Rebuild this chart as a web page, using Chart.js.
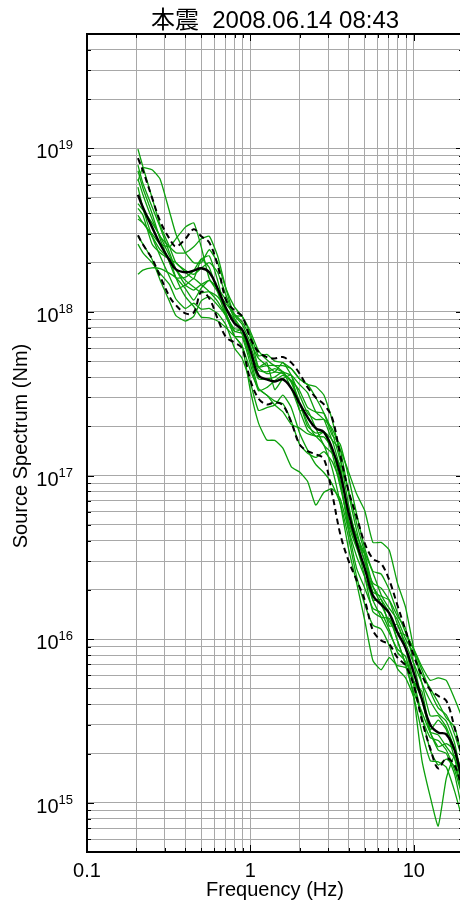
<!DOCTYPE html>
<html><head><meta charset="utf-8">
<script src="https://cdn.jsdelivr.net/npm/chart.js@4/dist/chart.umd.min.js"></script>
<style>
html,body{margin:0;padding:0;background:#fff;overflow:hidden;}
#wrap{position:absolute;left:0;top:0;width:470px;height:904px;}
</style></head><body>
<div id="wrap"><canvas id="c"></canvas></div>
<script>
// Source spectra of the main shock, one curve per station, plus mean and mean ± 1σ
const titleText = '本震  2008.06.14 08:43';
const xTitle = 'Frequency (Hz)';
const yTitle = 'Source Spectrum (Nm)';

const freqs = [0.205,0.22,0.25,0.28,0.32,0.35,0.4,0.45,0.5,0.56,0.63,0.71,0.8,0.89,1.0,1.12,1.26,1.41,1.58,1.78,2.0,2.24,2.51,2.82,3.16,3.55,3.98,4.47,5.01,5.62,6.31,7.08,7.94,8.91,10,11.2,12.6,14.1,15.8,17.8,20];

const meanSpec  = [5.2e18,4.35e18,3.3e18,2.6e18,2.07e18,1.82e18,1.75e18,1.79e18,1.85e18,1.75e18,1.39e18,1.05e18,8.5e17,7.8e17,5.8e17,4.1e17,3.87e17,3.76e17,3.87e17,3.41e17,2.76e17,2.27e17,1.95e17,1.84e17,1.47e17,1.02e17,5.97e16,3.86e16,2.71e16,1.85e16,1.63e16,1.44e16,1.1e16,8.8e15,6.2e15,4.3e15,3.0e15,2.69e15,2.62e15,2.09e15,1.28e15];
const upperSpec = [8.7e18,7.3e18,5.0e18,3.6e18,2.8e18,2.51e18,2.8e18,3.2e18,2.9e18,2.66e18,1.93e18,1.18e18,1.02e18,9.4e17,6.9e17,5.7e17,5.3e17,5.2e17,5.3e17,4.9e17,4.2e17,3.46e17,3.0e17,2.72e17,2.26e17,1.33e17,8.1e16,5.6e16,3.85e16,3.1e16,2.9e16,2.29e16,1.61e16,1.13e16,7.9e15,6.0e15,4.9e15,4.5e15,4.2e15,2.85e15,1.8e15];
const lowerSpec = [2.94e18,2.58e18,2.12e18,1.65e18,1.24e18,1.10e18,9.8e17,9.9e17,1.33e18,1.21e18,9.1e17,7.0e17,6.5e17,6.0e17,3.82e17,2.96e17,2.72e17,2.8e17,2.69e17,2.11e17,1.55e17,1.41e17,1.35e17,1.26e17,7.8e16,4.37e16,3.03e16,2.29e16,1.73e16,1.13e16,9.8e15,9.3e15,7.7e15,6.9e15,5.2e15,3.2e15,2.15e15,1.62e15,1.87e15,1.69e15,1.16e15];

const spec01 = [9.9e18,7.7e18,5.0e18,3.4e18,2.5e18,2.0e18,1.8e18,1.7e18,1.85e18,2.0e18,1.75e18,1.26e18,9.5e17,8.4e17,6.5e17,5.2e17,4.7e17,4.3e17,4.2e17,3.8e17,3.3e17,2.6e17,2.45e17,2.4e17,1.85e17,1.23e17,8.2e16,5.1e16,3.4e16,2.55e16,1.87e16,1.54e16,1.32e16,1.0e16,8.2e15,6.1e15,5.0e15,4.1e15,3.3e15,2.9e15,1.77e15];
const spec02 = [6.3e18,7.6e18,7.4e18,6.5e18,4.1e18,3.0e18,2.3e18,2.0e18,2.0e18,2.4e18,2.0e18,1.38e18,1.07e18,9.4e17,7.6e17,5.8e17,5.1e17,4.7e17,4.7e17,4.5e17,3.9e17,3.6e17,3.0e17,2.4e17,1.77e17,1.55e17,9.9e16,5.8e16,3.6e16,2.6e16,2.5e16,2.0e16,1.45e16,1.1e16,8.6e15,6.5e15,4.8e15,3.8e15,3.45e15,2.6e15,1.8e15];
const spec03 = [3.9e18,3.5e18,3.0e18,2.6e18,2.5e18,2.8e18,3.3e18,3.5e18,2.5e18,1.6e18,1.33e18,1.12e18,9.7e17,8.7e17,7.0e17,4.6e17,4.2e17,4.3e17,4.9e17,4.1e17,3.1e17,2.4e17,2.2e17,2.2e17,1.94e17,1.44e17,7.9e16,4.6e16,3.0e16,2.2e16,2.05e16,1.73e16,1.23e16,9.4e15,7.1e15,5.4e15,4.2e15,3.5e15,3.15e15,2.3e15,1.28e15];
const spec04 = [1.7e18,1.8e18,1.86e18,1.84e18,1.72e18,1.62e18,1.39e18,1.18e18,1.4e18,1.56e18,1.39e18,1.18e18,9.1e17,7.8e17,5.2e17,3.4e17,3.1e17,2.85e17,2.75e17,2.15e17,1.55e17,1.37e17,1.29e17,1.4e17,1.22e17,9.1e16,4.7e16,2.7e16,2.05e16,1.54e16,1.45e16,1.14e16,8.3e15,7.3e15,5.5e15,3.4e15,2.1e15,1.7e15,1.85e15,1.66e15,1.14e15];
const spec05 = [2.9e18,2.6e18,2.1e18,1.57e18,1.16e18,9.5e17,8.8e17,9.4e17,1.17e18,1.24e18,1.1e18,9.4e17,7.1e17,6.2e17,4.4e17,3.4e17,3.1e17,2.7e17,2.45e17,2.05e17,1.95e17,1.8e17,1.74e17,1.53e17,1.11e17,6.7e16,3.6e16,2.2e16,1.3e16,7.4e15,6.5e15,7.7e15,6.9e15,6.7e15,5.5e15,4.3e15,2.7e15,2.1e15,2.0e15,1.48e15,8.5e14];
const spec06 = [5.8e18,4.3e18,2.9e18,2.2e18,1.64e18,1.38e18,1.46e18,1.6e18,1.47e18,1.33e18,1.16e18,9.4e17,7.1e17,6.2e17,3.3e17,2.1e17,1.65e17,1.64e17,1.47e17,1.13e17,1.05e17,9.2e16,6.6e16,7.9e16,8.3e16,7.2e16,4.7e16,3.2e16,2.4e16,1.73e16,1.36e16,1.09e16,8.7e15,7.8e15,5.2e15,3.3e15,2.5e15,2.4e15,2.1e15,1.58e15,1.06e15];
const spec07 = [7.3e18,5.7e18,4.0e18,2.8e18,2.0e18,1.62e18,1.63e18,1.79e18,2.1e18,1.87e18,1.33e18,9.4e17,7.9e17,7.8e17,6.2e17,4.6e17,4.7e17,4.7e17,4.3e17,3.7e17,2.76e17,2.1e17,1.74e17,1.84e17,1.65e17,1.09e17,6.0e16,4.3e16,3.3e16,2.1e16,1.63e16,1.28e16,1.1e16,1.06e16,8.7e15,6.8e15,5.6e15,5.8e15,5.6e15,4.3e15,3.2e15];
const spec08 = [4.6e18,4.2e18,3.5e18,2.9e18,2.2e18,1.82e18,1.56e18,1.42e18,1.31e18,1.33e18,1.24e18,1.05e18,8.9e17,7.3e17,5.2e17,3.9e17,3.9e17,4.0e17,4.3e17,3.4e17,2.5e17,1.89e17,1.74e17,1.72e17,1.47e17,9.1e16,5.0e16,3.6e16,2.7e16,2.1e16,1.75e16,1.44e16,9.8e15,7.0e15,4.4e15,1.83e15,1.09e15,7.2e14,1.41e15,1.95e15,1.37e15];
const spec09 = [7.9e18,6.1e18,4.4e18,3.3e18,2.3e18,1.82e18,1.46e18,1.36e18,1.47e18,1.56e18,1.39e18,9.8e17,7.6e17,7.4e17,5.8e17,4.4e17,4.3e17,4.5e17,4.3e17,4.1e17,3.6e17,3.2e17,2.45e17,2.2e17,1.65e17,1.44e17,1.06e17,7.7e16,6.1e16,3.9e16,3.9e16,3.5e16,2.2e16,1.56e16,8.7e15,5.4e15,3.4e15,3.4e15,2.9e15,2.1e15,1.14e15];
const spec10 = [3.7e18,3.5e18,2.9e18,2.4e18,2.1e18,1.62e18,1.24e18,1.08e18,9.3e17,9.2e17,8.8e17,8.0e17,7.1e17,7.0e17,4.8e17,3.3e17,3.45e17,3.8e17,4.1e17,3.8e17,2.8e17,2.0e17,1.82e17,1.84e17,1.37e17,8.5e16,5.3e16,3.7e16,2.4e16,1.47e16,1.36e16,1.34e16,9.8e15,7.0e15,4.7e15,3.6e15,2.7e15,2.6e15,2.2e15,1.86e15,1.02e15];
const spec11 = [6.5e18,5.2e18,3.7e18,2.9e18,2.5e18,2.3e18,2.3e18,2.5e18,2.8e18,2.9e18,2.2e18,1.38e18,9.5e17,9.4e17,7.3e17,5.4e17,5.5e17,5.0e17,4.9e17,4.5e17,3.9e17,3.6e17,3.5e17,3.1e17,2.2e17,1.29e17,6.7e16,4.1e16,3.0e16,1.94e16,1.83e16,1.73e16,1.38e16,1.16e16,7.0e15,4.3e15,2.7e15,2.2e15,2.3e15,2.1e15,1.44e15];
const spec12 = [2.6e18,2.3e18,2.0e18,1.72e18,1.47e18,1.2e18,1.05e18,1.13e18,1.04e18,1.05e18,9.8e17,8.3e17,6.0e17,5.2e17,3.7e17,2.5e17,2.6e17,2.7e17,3.1e17,2.6e17,1.82e17,1.43e17,1.17e17,1.04e17,8.9e16,6.7e16,4.2e16,2.4e16,1.63e16,1.22e16,1.15e16,9.1e15,6.6e15,5.8e15,4.4e15,2.7e15,1.81e15,1.78e15,1.65e15,1.17e15,7.7e14];
const spec13 = [4.3e18,3.9e18,2.6e18,2.3e18,2.1e18,2.0e18,1.75e18,1.6e18,2.1e18,2.2e18,1.56e18,9.8e17,7.6e17,7.8e17,5.4e17,4.6e17,4.9e17,3.35e17,3.9e17,4.1e17,2.5e17,2.5e17,1.95e17,1.53e17,1.37e17,1.15e17,5.3e16,3.9e16,3.3e16,1.73e16,1.75e16,1.2e16,1.23e16,8.8e15,5.5e15,4.8e15,2.8e15,3.2e15,2.8e15,1.86e15,1.44e15];
const stationSpecs = [spec01,spec02,spec03,spec04,spec05,spec06,spec07,spec08,spec09,spec10,spec11,spec12,spec13];

// axis ranges, grid positions and labelled ticks
const xMin = 0.1, xMax = 20, yMin = 5e14, yMax = 5e19;
const xGrid = [0.1,0.2,0.3,0.4,0.5,0.6,0.7,0.8,0.9,1,2,3,4,5,6,7,8,9,10,20];
const xLabelValues = [0.1, 1, 10];
const xLabelTexts = ['0.1', '1', '10'];
const yMantissas = [1,2,3,4,5,6,7,8,9];
const yDecades = [14,15,16,17,18,19];
const yLabelExponents = [15,16,17,18,19];

const yGrid = [];
for (const d of yDecades) for (const m of yMantissas) {
  const v = m * Math.pow(10, d);
  if (v >= yMin * 0.999 && v <= yMax * 1.001) yGrid.push(v);
}

const FONT = '"Liberation Sans", Arial, "Noto Sans CJK JP", sans-serif';
const GREEN = '#0ca00c';
const GRID = '#a8a8a8';

const toPoints = arr => freqs.map((f, i) => ({x: f, y: arr[i]}));

const datasets = [
  {data: toPoints(meanSpec), borderColor: '#000', borderWidth: 2.4, tension: 0.4},
  {data: toPoints(upperSpec), borderColor: '#000', borderWidth: 2, borderDash: [6, 4], tension: 0.35},
  {data: toPoints(lowerSpec), borderColor: '#000', borderWidth: 2, borderDash: [6, 4], tension: 0.35}
];
for (const s of stationSpecs) {
  datasets.push({data: toPoints(s), borderColor: GREEN, borderWidth: 1.3, tension: 0.15});
}

// frame, inward tick marks and all text around the plot
const framePlugin = {
  id: 'frame',
  afterDraw(chart) {
    const {ctx, chartArea: a, scales: {x, y}} = chart;
    ctx.save();
    ctx.strokeStyle = '#000';
    ctx.lineWidth = 1;
    ctx.beginPath();
    for (const v of xGrid) {
      const px = Math.round(x.getPixelForValue(v)) + 0.5;
      const len = xLabelValues.includes(v) ? 7 : 4;
      ctx.moveTo(px, a.bottom); ctx.lineTo(px, a.bottom - len);
      ctx.moveTo(px, a.top); ctx.lineTo(px, a.top + len);
    }
    for (const v of yGrid) {
      const py = Math.round(y.getPixelForValue(v)) + 0.5;
      const major = yLabelExponents.some(e => Math.abs(v / Math.pow(10, e) - 1) < 1e-6);
      const len = major ? 7 : 4;
      ctx.moveTo(a.left, py); ctx.lineTo(a.left + len, py);
      ctx.moveTo(a.right, py); ctx.lineTo(a.right - len, py);
    }
    ctx.stroke();
    ctx.lineWidth = 2;
    ctx.strokeRect(a.left, a.top, a.right - a.left, a.bottom - a.top);

    ctx.fillStyle = '#000';
    // title
    ctx.font = '24px ' + FONT;
    ctx.textAlign = 'center';
    ctx.textBaseline = 'alphabetic';
    ctx.fillText(titleText, (a.left + a.right) / 2, 28);
    // x tick labels
    ctx.font = '20px ' + FONT;
    xLabelValues.forEach((v, i) => {
      ctx.fillText(xLabelTexts[i], x.getPixelForValue(v), a.bottom + 25);
    });
    // x title
    ctx.fillText(xTitle, (a.left + a.right) / 2, a.bottom + 44);
    // y tick labels: 10 with a raised exponent
    ctx.textAlign = 'left';
    for (const e of yLabelExponents) {
      const py = y.getPixelForValue(Math.pow(10, e));
      ctx.font = '13px ' + FONT;
      const ew = ctx.measureText(String(e)).width;
      ctx.font = '20px ' + FONT;
      const bw = ctx.measureText('10').width;
      const right = a.left - 14;
      ctx.fillText('10', right - ew - bw, py + 10);
      ctx.font = '13px ' + FONT;
      ctx.fillText(String(e), right - ew, py + 1);
    }
    // y title
    ctx.save();
    ctx.translate(27, (a.top + a.bottom) / 2 + 3);
    ctx.rotate(-Math.PI / 2);
    ctx.textAlign = 'center';
    ctx.font = '20px ' + FONT;
    ctx.fillText(yTitle, 0, 0);
    ctx.restore();
    ctx.restore();
  }
};

new Chart(document.getElementById('c'), {
  type: 'line',
  data: {datasets},
  options: {
    responsive: true,
    maintainAspectRatio: false,
    animation: false,
    parsing: true,
    elements: {point: {radius: 0}, line: {borderCapStyle: 'butt'}},
    layout: {padding: {top: 34, right: 7, bottom: 0, left: 0}},
    plugins: {legend: {display: false}, tooltip: {enabled: false}, title: {display: false}},
    scales: {
      x: {
        type: 'logarithmic', min: xMin, max: xMax,
        afterBuildTicks: s => { s.ticks = xGrid.map(v => ({value: v})); },
        afterFit: s => { s.height = 52; },
        ticks: {display: false},
        grid: {color: GRID, lineWidth: 1, drawTicks: false},
        border: {display: false}
      },
      y: {
        type: 'logarithmic', min: yMin, max: yMax,
        afterBuildTicks: s => { s.ticks = yGrid.map(v => ({value: v})); },
        afterFit: s => { s.width = 87; },
        ticks: {display: false},
        grid: {color: GRID, lineWidth: 1, drawTicks: false},
        border: {display: false}
      }
    }
  },
  plugins: [framePlugin]
});
</script>
</body></html>
